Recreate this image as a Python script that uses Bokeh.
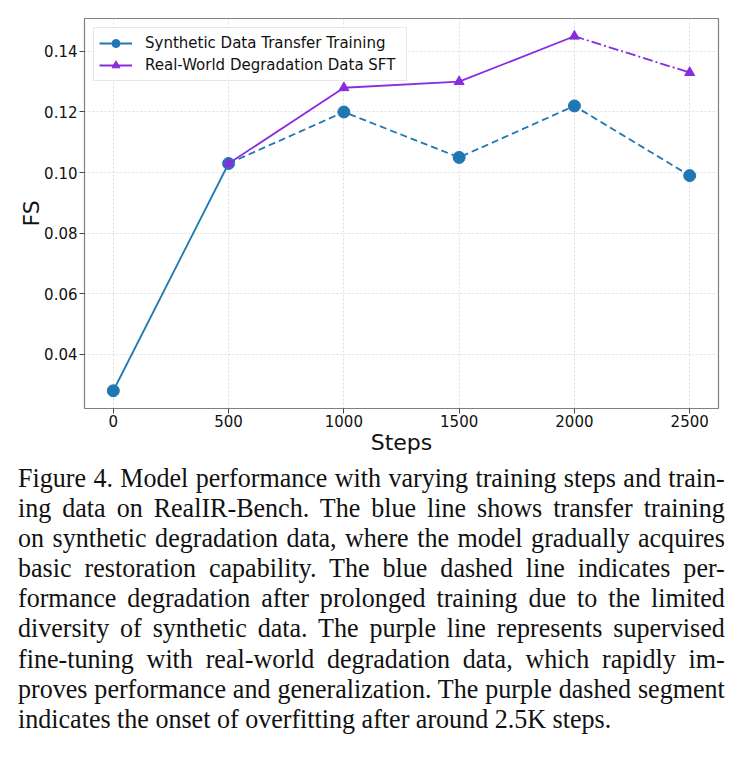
from bokeh.plotting import figure
from bokeh.models import Legend, LegendItem, Div, FixedTicker
from bokeh.layouts import column
from bokeh.embed import file_html
from bokeh.resources import INLINE

steps = [0, 500, 1000, 1500, 2000, 2500]
synthetic_fs = [0.028, 0.103, 0.120, 0.105, 0.122, 0.099]
real_steps = [500, 1000, 1500, 2000, 2500]
real_fs = [0.103, 0.128, 0.130, 0.145, 0.133]
x_ticks = [0, 500, 1000, 1500, 2000, 2500]
y_ticks = [0.04, 0.06, 0.08, 0.10, 0.12, 0.14]

caption_lines = [
    "Figure 4. Model performance with varying training steps and train-",
    "ing data on RealIR-Bench. The blue line shows transfer training",
    "on synthetic degradation data, where the model gradually acquires",
    "basic restoration capability.  The blue dashed line indicates per-",
    "formance degradation after prolonged training due to the limited",
    "diversity of synthetic data. The purple line represents supervised",
    "fine-tuning with real-world degradation data, which rapidly im-",
    "proves performance and generalization. The purple dashed segment",
    "indicates the onset of overfitting after around 2.5K steps.",
]

BLUE = "#1f77b4"
PURPLE = "#8a2be2"
FONT = "DejaVu Sans"

p = figure(width=744, height=461, output_backend="svg", toolbar_location=None,
           x_range=(-125, 2625), y_range=(0.02215, 0.15085),
           min_border_left=84, min_border_right=26, min_border_top=18, min_border_bottom=53)

p.background_fill_color = "white"
p.border_fill_color = "white"
p.outline_line_color = "#808080"
p.outline_line_width = 1.2

p.xaxis.ticker = FixedTicker(ticks=x_ticks)
p.yaxis.ticker = FixedTicker(ticks=y_ticks)
p.yaxis.major_label_overrides = {t: f"{t:.2f}" for t in y_ticks}
for ax in (p.xaxis[0], p.yaxis[0]):
    ax.axis_line_color = None
    ax.minor_tick_line_color = None
    ax.major_tick_out = 5
    ax.major_tick_in = 0
    ax.major_tick_line_color = "#444444"
    ax.major_label_text_font = FONT
    ax.major_label_text_font_size = "15px"
    ax.major_label_text_color = "#111111"
    ax.axis_label_text_font = FONT
    ax.axis_label_text_font_size = "22px"
    ax.axis_label_text_font_style = "normal"
    ax.axis_label_text_color = "#111111"
p.xaxis.axis_label = "Steps"
p.yaxis.axis_label = "FS"
p.xaxis.major_label_standoff = 1
p.xaxis.axis_label_standoff = 0
p.yaxis.major_label_standoff = 2
p.yaxis.axis_label_standoff = -3

p.grid.grid_line_color = "#d5d5d5"
p.grid.grid_line_alpha = 0.8
p.grid.grid_line_dash = "2 2"
p.grid.grid_line_width = 1

b_solid = p.line(steps[:2], synthetic_fs[:2], color=BLUE, line_width=1.8)
p.line(steps[1:], synthetic_fs[1:], color=BLUE, line_width=1.8, line_dash="7 4")
b_pts = p.scatter(steps, synthetic_fs, size=12, color=BLUE, marker="circle")

r_solid = p.line(real_steps[:4], real_fs[:4], color=PURPLE, line_width=1.8)
p.line(real_steps[3:], real_fs[3:], color=PURPLE, line_width=1.8, line_dash="10 3 2 3")
r_pts = p.scatter(real_steps, real_fs, size=10, color=PURPLE, marker="triangle")

legend = Legend(items=[
    LegendItem(label="Synthetic Data Transfer Training", renderers=[b_solid, b_pts]),
    LegendItem(label="Real-World Degradation Data SFT", renderers=[r_solid, r_pts]),
], location="top_left")
legend.margin = 9
legend.padding = 5
legend.spacing = 2
legend.glyph_width = 33
legend.label_height = 20
legend.glyph_height = 20
legend.label_width = 256
legend.label_standoff = 13
legend.label_text_font = FONT
legend.label_text_font_size = "15px"
legend.label_text_color = "#111111"
legend.border_line_color = "#d0d0d0"
legend.border_line_width = 1
legend.background_fill_alpha = 0.8
p.add_layout(legend)

line_divs = []
for i, ln in enumerate(caption_lines):
    last = i == len(caption_lines) - 1
    align_last = "left" if last else "justify"
    line_divs.append(
        f'<div style="white-space:nowrap;text-align:justify;text-align-last:{align_last};'
        f'height:30.1px;line-height:30.1px;">{ln}</div>'
    )
html = (
    '<div style="width:719px;font-family:\'Liberation Serif\',\'Times New Roman\',serif;'
    'font-size:26.5px;color:#111;transform:scaleX(0.983);transform-origin:left top;">'
    + "".join(line_divs) + "</div>"
)
cap = Div(text=html, width=726, height=300, margin=(2, 0, 0, 18))

layout = column(p, cap, spacing=0)
open("out.html", "w").write(file_html(layout, INLINE))
